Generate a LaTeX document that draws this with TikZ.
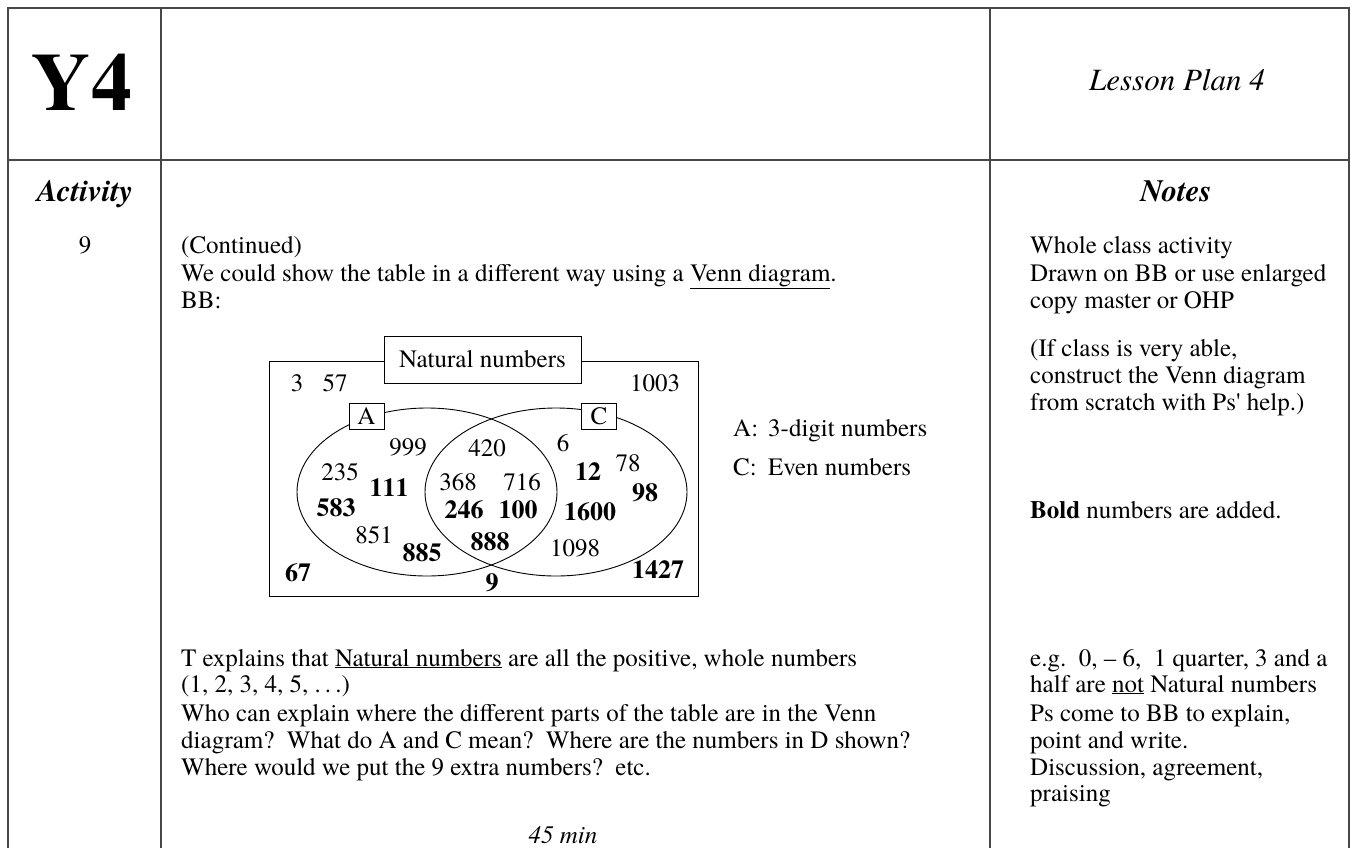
\documentclass[tikz,border=0pt]{standalone}
\usepackage{fontspec}
\IfFontExistsTF{texgyretermes-regular.otf}{%
  \setmainfont{texgyretermes}[Extension=.otf,UprightFont=*-regular,BoldFont=*-bold,ItalicFont=*-italic,BoldItalicFont=*-bolditalic]}{%
  \setmainfont{Liberation Serif}}
\begin{document}
\begin{tikzpicture}[x=1pt,y=-1pt,
  frame/.style={line width=1.4pt,draw=black!72},
  txt/.style={anchor=base west,inner sep=0pt,font=\fontsize{25}{30}\selectfont},
  ctxt/.style={anchor=base,inner sep=0pt,font=\fontsize{25}{30}\selectfont},
  num/.style={anchor=center,inner sep=0pt,font=\fontsize{25}{30}\selectfont},
  bnum/.style={anchor=center,inner sep=0pt,font=\fontsize{26}{30}\selectfont\bfseries},
  lbox/.style={draw,fill=white,line width=0.9pt,inner sep=0pt,minimum height=26pt,minimum width=35pt,font=\fontsize{25}{30}\selectfont},
  venn/.style={line width=0.9pt,draw=black}]
\useasboundingbox (0,0) rectangle (1357,847);
% table frame
\draw[frame] (8,860) -- (8,8) -- (1349,8) -- (1349,860);
\draw[frame] (161,8) -- (161,860);
\draw[frame] (990,8) -- (990,860);
\draw[frame] (8,160) -- (1349,160);
% headers
\node[anchor=base,inner sep=0pt,font=\fontsize{82}{90}\selectfont\bfseries] (y4) at (82,110) {Y4};
\node[anchor=base,inner sep=0pt,font=\fontsize{31}{36}\selectfont\itshape] (lp) at (1177,90) {Lesson Plan 4};
\node[anchor=base,inner sep=0pt,font=\fontsize{31}{36}\selectfont\bfseries\itshape] (act) at (85,201) {Activity};
\node[anchor=base,inner sep=0pt,font=\fontsize{31}{36}\selectfont\bfseries\itshape] (notes) at (1176,201) {Notes};
\node[ctxt] (nine) at (85,253) {9};
% main column
\node[txt] (cont) at (181,253) {(Continued)};
\node[txt] (could) at (181,281) {We could show the table in a different way using a \underline{Venn diagram}.};
\node[txt] (bb) at (181,308) {BB:};
\node[txt] (texp) at (181,666) {T explains that \underline{Natural numbers} are all the positive, whole numbers};
\node[txt] (seq) at (181,692) {(1, 2, 3, 4, 5, .\,.\,.)};
\node[txt] (who1) at (181,721) {Who can explain where the different parts of the table are in the Venn};
\node[txt] (who2) at (181,748) {diagram?\ \ What do A and C mean?\ \ Where are the numbers in D shown?};
\node[txt] (who3) at (181,775) {Where would we put the 9 extra numbers?\ \ etc.};
\node[ctxt,font=\fontsize{25}{30}\selectfont\itshape] (min) at (563,843) {45 min};
% notes column
\node[txt] (n1) at (1030,253) {Whole class activity};
\node[txt] (n2) at (1030,281) {Drawn on BB or use enlarged};
\node[txt] (n3) at (1030,308) {copy master or OHP};
\node[txt] (n4) at (1030,356) {(If class is very able,};
\node[txt] (n5) at (1030,383) {construct the Venn diagram};
\node[txt] (n6) at (1030,410) {from scratch with Ps\textquotesingle{} help.)};
\node[txt] (n7) at (1030,518) {\textbf{Bold} numbers are added.};
\node[txt] (n8) at (1030,666) {e.g.\ \ 0, -- 6,\ \ 1 quarter, 3 and a};
\node[txt] (n9) at (1030,692) {half are \underline{not} Natural numbers};
\node[txt] (n10) at (1030,721) {Ps come to BB to explain,};
\node[txt] (n11) at (1030,748) {point and write.};
\node[txt] (n12) at (1030,775) {Discussion, agreement,};
\node[txt] (n13) at (1030,801) {praising};
% Venn diagram
\draw[venn] (269,361) rectangle (698,596);
\draw[venn] (427,492) ellipse [x radius=130, y radius=84];
\draw[venn] (556,492) ellipse [x radius=131, y radius=84];
\node[lbox,minimum width=197pt,minimum height=47pt] (nat) at (482.5,359.5) {Natural numbers};
\node[lbox] (boxa) at (366.5,416) {A};
\node[lbox] (boxc) at (599,416) {C};
\node[num] (v3) at (297,383) {3};
\node[num] (v57) at (335,383) {57};
\node[num] (v1003) at (655,383) {1003};
\node[num] (v999) at (408,447) {999};
\node[num] (v420) at (487,448) {420};
\node[num] (v6) at (563,443) {6};
\node[num] (v235) at (340,472) {235};
\node[bnum] (v111) at (389,488) {111};
\node[num] (v368) at (458,482) {368};
\node[num] (v716) at (522,482) {716};
\node[bnum] (v12) at (588,472) {12};
\node[num] (v78) at (628,463) {78};
\node[bnum] (v98) at (645,493) {98};
\node[bnum] (v583) at (336,508) {583};
\node[bnum] (v246) at (464,510) {246};
\node[bnum] (v100) at (518,510) {100};
\node[bnum] (v1600) at (590,512) {1600};
\node[num] (v851) at (374,535) {851};
\node[bnum] (v888) at (490,542) {888};
\node[bnum] (v885) at (422,553) {885};
\node[num] (v1098) at (575,548) {1098};
\node[bnum] (v67) at (298,573) {67};
\node[bnum] (v9) at (492,583) {9};
\node[bnum] (v1427) at (658,570) {1427};
% set labels
\node[txt] (la) at (733,436) {A:};
\node[txt] (lat) at (768,436) {3-digit numbers};
\node[txt] (lc) at (733,475) {C:};
\node[txt] (lct) at (768,475) {Even numbers};
\end{tikzpicture}
\end{document}
